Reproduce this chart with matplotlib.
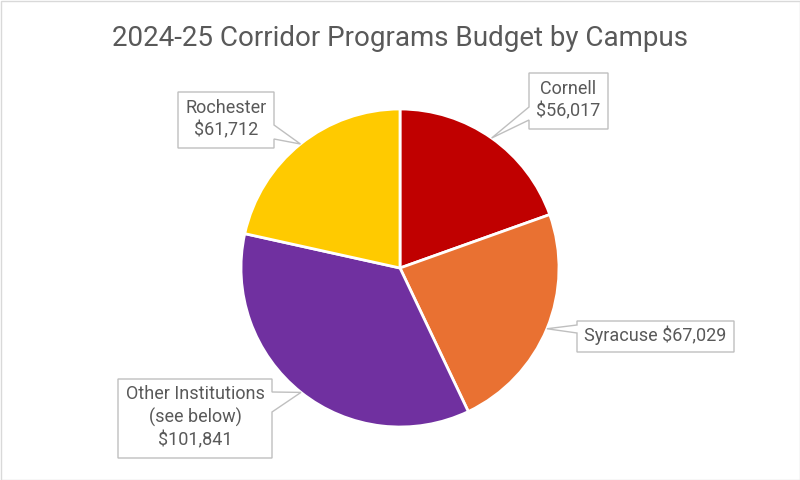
import numpy as np
import matplotlib
matplotlib.use("Agg")
import matplotlib.pyplot as plt
from matplotlib.patches import Polygon, Rectangle

campuses = ["Cornell", "Syracuse", "Other Institutions\n(see below)", "Rochester"]
budgets = [56017, 67029, 101841, 61712]
colors = ["#C00000", "#E97132", "#7030A0", "#FFCA00"]

W, H = 800, 480
plt.rcParams['font.family'] = ['Roboto', 'DejaVu Sans']
fig = plt.figure(figsize=(W / 100, H / 100), dpi=100)
ax = fig.add_axes([0, 0, 1, 1])

cx, cy, r = 400, 268, 159
wedges, _ = ax.pie(budgets, colors=colors, startangle=90, counterclock=False,
                   center=(cx, H - cy), radius=r,
                   wedgeprops=dict(edgecolor="white", linewidth=2))
ax.set_xlim(0, W)
ax.set_ylim(0, H)
ax.set_aspect("equal")
ax.set_axis_off()

# callout boxes (pixel layout, y down): box, side of the pointer, pointer base
boxes = [
    ((529, 73, 608, 129), "left", (107, 120), True),
    ((577, 321, 734, 352), "left", (325, 333), False),
    ((118, 379, 272, 458), "right", (392, 412), True),
    ((178, 92, 274, 148), "right", (125, 139), True),
]

def fmt(name, v, multi):
    sep = "\n" if multi else " "
    return f"{name}{sep}${v:,}"

for w, name, v, (box, side, (ya, yb), multi) in zip(wedges, campuses, budgets, boxes):
    mid = np.deg2rad((w.theta1 + w.theta2) / 2)
    tx = cx + r * np.cos(mid)
    ty = cy - r * np.sin(mid)
    x0, y0, x1, y1 = box
    if side == "right":
        pts = [(x0, y0), (x1, y0), (x1, ya), (tx, ty), (x1, yb), (x1, y1), (x0, y1)]
    else:
        pts = [(x0, y0), (x1, y0), (x1, y1), (x0, y1), (x0, yb), (tx, ty), (x0, ya)]
    pts = [(px, H - py) for px, py in pts]
    ax.add_patch(Polygon(pts, closed=True, facecolor="white", edgecolor="#BFBFBF",
                         linewidth=1, zorder=5))
    ax.text((x0 + x1) / 2, H - (y0 + y1) / 2 + 1, fmt(name, v, multi), ha="center",
            va="center", fontsize=13, color="#595959", linespacing=1.3, zorder=6)

ax.text(W / 2, H - 38, "2024-25 Corridor Programs Budget by Campus", ha="center",
        va="center", fontsize=20, color="#595959")

ax.add_patch(Rectangle((0.5, 0.5), W - 1, H - 1, fill=False, edgecolor="#D9D9D9",
                       linewidth=1, zorder=10))

fig.savefig("out.png", dpi=100)
